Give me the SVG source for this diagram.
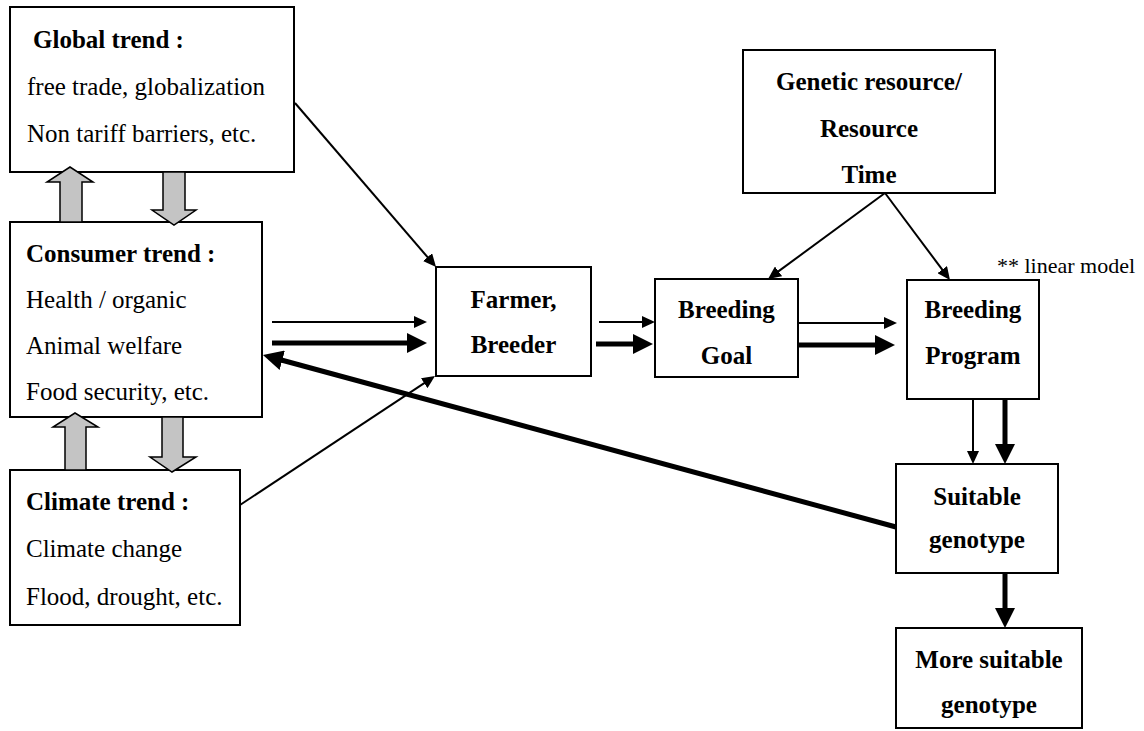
<svg xmlns="http://www.w3.org/2000/svg" width="1144" height="731" viewBox="0 0 1144 731">
<style>
.box{fill:#fff;stroke:#000;stroke-width:2}
text{font-family:'Liberation Serif','Times New Roman',serif;font-size:25px;fill:#000}
.b{font-weight:bold}
.c{text-anchor:middle}
.thin{stroke:#000;stroke-width:2;fill:none}
.thick{stroke:#000;stroke-width:5;fill:none}
.blk{fill:#c4c4c4;stroke:#000;stroke-width:1.5}
</style>
<defs>
<marker id="ah" markerUnits="userSpaceOnUse" markerWidth="14" markerHeight="12" refX="1" refY="6" orient="auto"><path d="M0,0 L13,6 L0,12 z" fill="#000"/></marker>
<marker id="ahb" markerUnits="userSpaceOnUse" markerWidth="22" markerHeight="20" refX="1" refY="10" orient="auto"><path d="M0,0 L20,10 L0,20 z" fill="#000"/></marker>
</defs>
<rect width="1144" height="731" fill="#fff"/>

<g id="global">
<rect class="box" x="10" y="7" width="284" height="165"/>
<text class="b" x="33" y="48">Global trend :</text>
<text x="27" y="95">free trade, globalization</text>
<text x="27" y="142">Non tariff barriers, etc.</text>
</g>
<g id="consumer">
<rect class="box" x="10" y="222" width="252" height="195"/>
<text class="b" x="26" y="262">Consumer trend :</text>
<text x="26" y="308">Health / organic</text>
<text x="26" y="354">Animal welfare</text>
<text x="26" y="400">Food security, etc.</text>
</g>
<g id="climate">
<rect class="box" x="10" y="470" width="230" height="155"/>
<text class="b" x="26" y="510">Climate trend :</text>
<text x="26" y="557">Climate change</text>
<text x="26" y="605">Flood, drought, etc.</text>
</g>
<g id="farmer">
<rect class="box" x="436" y="267" width="155" height="109"/>
<text class="b c" x="513.5" y="308">Farmer,</text>
<text class="b c" x="513.5" y="353">Breeder</text>
</g>
<g id="goal">
<rect class="box" x="655" y="279" width="143" height="98"/>
<text class="b c" x="726.5" y="318">Breeding</text>
<text class="b c" x="726.5" y="364">Goal</text>
</g>
<g id="genetic">
<rect class="box" x="743" y="50" width="252" height="143"/>
<text class="b c" x="869" y="90">Genetic resource/</text>
<text class="b c" x="869" y="137">Resource</text>
<text class="b c" x="869" y="183">Time</text>
</g>
<g id="program">
<rect class="box" x="907" y="280" width="132" height="119"/>
<text class="b c" x="973" y="318">Breeding</text>
<text class="b c" x="973" y="364">Program</text>
</g>
<g id="suitable">
<rect class="box" x="896" y="464" width="162" height="109"/>
<text class="b c" x="977" y="505">Suitable</text>
<text class="b c" x="977" y="548">genotype</text>
</g>
<g id="more">
<rect class="box" x="896" y="628" width="186" height="100"/>
<text class="b c" x="989" y="668">More suitable</text>
<text class="b c" x="989" y="713">genotype</text>
</g>
<g id="note">
<text x="997" y="273" style="font-size:22px">** linear model</text>
</g>

<g id="connectors">
<path class="blk" d="M60,222 L60,182 L47,182 L70,167 L93,182 L82,182 L82,222 Z"/>
<path class="blk" d="M163,172 L163,210 L152,210 L174,225 L196,210 L185,210 L185,172 Z"/>
<path class="blk" d="M65,470 L65,427 L53,427 L75,413 L98,427 L86,427 L86,470 Z"/>
<path class="blk" d="M162,417 L162,457 L150,457 L172,472 L196,457 L183,457 L183,417 Z"/>
<line class="thin" x1="295" y1="103" x2="428.2" y2="257.9" marker-end="url(#ah)"/>
<line class="thin" x1="240" y1="505" x2="425" y2="382.6" marker-end="url(#ah)"/>
<line class="thin" x1="272" y1="322" x2="415" y2="322" marker-end="url(#ah)"/>
<line class="thick" x1="272" y1="343" x2="408" y2="343" marker-end="url(#ahb)"/>
<line class="thin" x1="599" y1="322" x2="643" y2="322" marker-end="url(#ah)"/>
<line class="thick" x1="596" y1="344" x2="634" y2="344" marker-end="url(#ahb)"/>
<line class="thin" x1="798" y1="323" x2="885" y2="323" marker-end="url(#ah)"/>
<line class="thick" x1="798" y1="345" x2="876" y2="345" marker-end="url(#ahb)"/>
<line class="thin" x1="885" y1="193" x2="777.7" y2="271.9" marker-end="url(#ah)"/>
<line class="thin" x1="885" y1="193" x2="942.8" y2="270.4" marker-end="url(#ah)"/>
<line class="thin" x1="973" y1="399" x2="973" y2="452" marker-end="url(#ah)"/>
<line class="thick" x1="1005" y1="399" x2="1005" y2="445" marker-end="url(#ahb)"/>
<line class="thick" x1="1005" y1="573" x2="1005" y2="609" marker-end="url(#ahb)"/>
<line class="thick" x1="896" y1="527" x2="281.3" y2="360" marker-end="url(#ahb)"/>
</g>
</svg>
